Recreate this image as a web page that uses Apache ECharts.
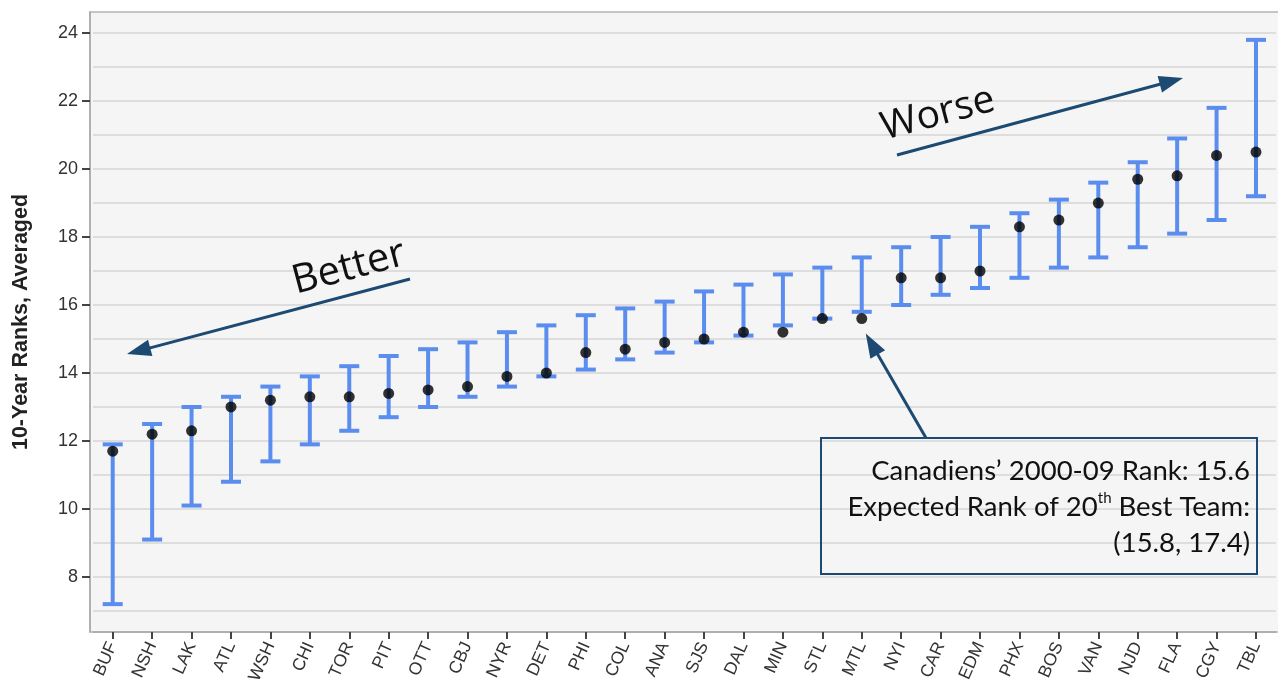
<!DOCTYPE html>
<html><head><meta charset="utf-8">
<script src="https://cdn.jsdelivr.net/npm/echarts@6/dist/echarts.min.js"></script>
<style>html,body{margin:0;padding:0;background:#fff}#c{width:1278px;height:689px}</style>
</head><body><div id="c"></div>
<script>
// ---- data ----
const teams = ['BUF','NSH','LAK','ATL','WSH','CHI','TOR','PIT','OTT','CBJ','NYR','DET','PHI','COL','ANA','SJS','DAL','MIN','STL','MTL','NYI','CAR','EDM','PHX','BOS','VAN','NJD','FLA','CGY','TBL'];
const avgRank    = [11.7,12.2,12.3,13.0,13.2,13.3,13.3,13.4,13.5,13.6,13.9,14.0,14.6,14.7,14.9,15.0,15.2,15.2,15.6,15.6,16.8,16.8,17.0,18.3,18.5,19.0,19.7,19.8,20.4,20.5];
const lowerBound = [7.2,9.1,10.1,10.8,11.4,11.9,12.3,12.7,13.0,13.3,13.6,13.9,14.1,14.4,14.6,14.9,15.1,15.4,15.6,15.8,16.0,16.3,16.5,16.8,17.1,17.4,17.7,18.1,18.5,19.2];
const upperBound = [11.9,12.5,13.0,13.3,13.6,13.9,14.2,14.5,14.7,14.9,15.2,15.4,15.7,15.9,16.1,16.4,16.6,16.9,17.1,17.4,17.7,18.0,18.3,18.7,19.1,19.6,20.2,20.9,21.8,23.8];
const yTickValues = [8,10,12,14,16,18,20,22,24];
const gridValues  = [7,8,9,10,11,12,13,14,15,16,17,18,19,20,21,22,23,24];
const yAxisTitle = '10-Year Ranks, Averaged';
const noteLine1 = 'Canadiens’ 2000-09 Rank: 15.6';
const noteLine2 = 'Expected Rank of 20{sup|th} Best Team:';
const noteLine3 = '(15.8, 17.4)';
const highlightIndex = 19; // MTL

const BLUE = '#5b8def';
const NAVY = '#1c4a72';
const chart = echarts.init(document.getElementById('c'));

const option = {
  animation: false,
  grid: {left: 93, right: 2.3, top: 12, bottom: 57, containLabel: false},
  xAxis: {
    type: 'category', data: teams, boundaryGap: true,
    axisLine: {show: true, lineStyle: {color: '#a8a8a8', width: 1.5}},
    axisTick: {show: true, alignWithLabel: true, length: 7, lineStyle: {color: '#444', width: 2}},
    axisLabel: {rotate: 66, margin: 11, fontSize: 17.5, color: '#333', fontFamily: 'Arial'},
    splitLine: {show: false}
  },
  yAxis: [
    {type: 'value', min: 6.38, max: 24.62, offset: 3,
     axisLine: {show: false}, axisTick: {show: false, customValues: gridValues},
     axisLabel: {show: false}, splitLine: {show: true, lineStyle: {color: '#d4d4d4', width: 1.5}}},
    {type: 'value', position: 'left', min: 6.38, max: 24.62, offset: 3,
     axisLine: {show: true, lineStyle: {color: '#a8a8a8', width: 1.5}},
     axisTick: {show: true, customValues: yTickValues, length: 8, lineStyle: {color: '#444', width: 2}},
     axisLabel: {customValues: yTickValues, fontSize: 18, color: '#333', margin: 12, fontFamily: 'Arial'},
     splitLine: {show: false},
     name: yAxisTitle, nameLocation: 'middle', nameRotate: 90, nameGap: 58,
     nameTextStyle: {fontWeight: 'bold', fontSize: 21.5, color: '#222', fontFamily: 'Arial'}}
  ],
  series: [
    {type: 'custom', xAxisIndex: 0, yAxisIndex: 1, z: 3,
     data: teams.map((t, i) => [i, lowerBound[i], upperBound[i]]),
     encode: {x: 0, y: [1, 2]},
     renderItem: function (params, api) {
       const x = api.value(0);
       const lo = api.coord([x, api.value(1)]);
       const hi = api.coord([x, api.value(2)]);
       const hw = 10;
       const st = {stroke: BLUE, lineWidth: 4};
       return {type: 'group', children: [
         {type: 'line', shape: {x1: lo[0], y1: lo[1], x2: hi[0], y2: hi[1]}, style: st},
         {type: 'line', shape: {x1: lo[0] - hw, y1: lo[1], x2: lo[0] + hw, y2: lo[1]}, style: st},
         {type: 'line', shape: {x1: hi[0] - hw, y1: hi[1], x2: hi[0] + hw, y2: hi[1]}, style: st}
       ]};
     }},
    {type: 'scatter', xAxisIndex: 0, yAxisIndex: 1, z: 4, symbol: 'circle', symbolSize: 11,
     itemStyle: {color: '#000'},
     data: teams.map((t, i) => [i, avgRank[i]])}
  ]
};
chart.setOption(option);

function arrow(x1, y1, x2, y2) {
  const a = Math.atan2(y2 - y1, x2 - x1), L = 24, W = 8.5;
  const bx = x2 - L * Math.cos(a), by = y2 - L * Math.sin(a);
  const px = -Math.sin(a) * W, py = Math.cos(a) * W;
  return [
    {type: 'line', shape: {x1: x1, y1: y1, x2: bx + 2 * Math.cos(a), y2: by + 2 * Math.sin(a)}, style: {stroke: NAVY, lineWidth: 3}, z: 10},
    {type: 'polygon', shape: {points: [[x2, y2], [bx + px, by + py], [bx - px, by - py]]}, style: {fill: NAVY}, z: 10}
  ];
}

const mtl = chart.convertToPixel({xAxisIndex: 0, yAxisIndex: 1}, [highlightIndex, avgRank[highlightIndex]]);
const boxX = 821, boxY = 438, boxW = 436, boxH = 136;

const graphics = [
  {type: 'rect', z: -10, shape: {x: 90, y: 12, width: 1220, height: 620}, style: {fill: '#f5f5f5', stroke: '#b4b4b4', lineWidth: 1.5}},
  {type: 'text', x: 349, y: 268, rotation: 0.26, z: 10,
   style: {text: 'Better', fontSize: 40, fontFamily: 'Open Sans', fill: '#111', align: 'center', verticalAlign: 'middle'}},
  {type: 'text', x: 938, y: 114, rotation: 0.26, z: 10,
   style: {text: 'Worse', fontSize: 39, fontFamily: 'Open Sans', fill: '#111', align: 'center', verticalAlign: 'middle'}},
  ...arrow(410, 279, 127, 354),
  ...arrow(897, 155, 1183, 78),
  ...arrow(926, boxY, mtl[0] + 4, mtl[1] + 15),
  {type: 'rect', z: 10, shape: {x: boxX, y: boxY, width: boxW, height: boxH}, style: {fill: 'rgba(0,0,0,0)', stroke: NAVY, lineWidth: 2}},
  {type: 'text', x: 1250, y: 471, z: 11,
   style: {text: noteLine1, fontSize: 27.5, fontFamily: 'Lato', fill: '#111', align: 'right', verticalAlign: 'middle'}},
  {type: 'text', x: 1250, y: 507, z: 11,
   style: {text: noteLine2, fontSize: 27.5, fontFamily: 'Lato', fill: '#111', align: 'right', verticalAlign: 'middle',
           rich: {sup: {fontSize: 15, fontFamily: 'Lato', fill: '#111', verticalAlign: 'top', lineHeight: 32}}}},
  {type: 'text', x: 1250, y: 543, z: 11,
   style: {text: noteLine3, fontSize: 27.5, fontFamily: 'Lato', fill: '#111', align: 'right', verticalAlign: 'middle'}}
];
chart.setOption({graphic: graphics});
</script>
</body></html>
